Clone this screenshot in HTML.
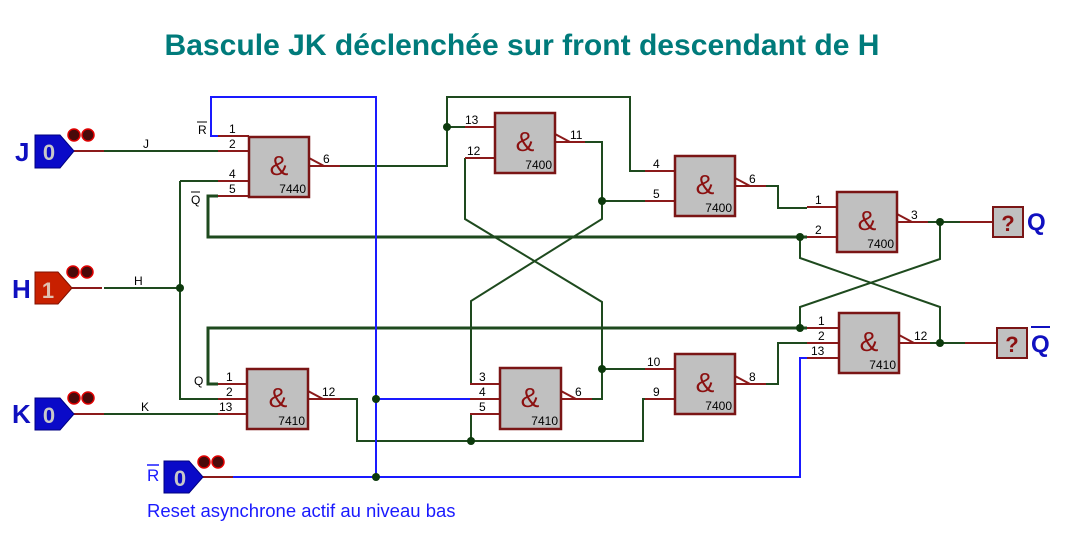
<!DOCTYPE html>
<html><head><meta charset="utf-8"><style>
html,body{margin:0;padding:0;background:#fff;}
svg{display:block;font-family:"Liberation Sans",sans-serif;}
.g{stroke:#1e4a1e;stroke-width:2;fill:none;}
.gt{stroke:#1e4a1e;stroke-width:3;fill:none;}
.b{stroke:#1a1aff;stroke-width:2;fill:none;}
.r{stroke:#8b1a1a;stroke-width:2;fill:none;}
.box{fill:#c0c0c0;stroke:#7a1515;stroke-width:2.5;}
.pn{font-size:12px;fill:#000;}
.amp{font-size:28px;fill:#8b1010;}
.ic{font-size:12px;fill:#000;}
</style></head><body>
<svg width="1069" height="547" viewBox="0 0 1069 547">
<text x="522" y="55" text-anchor="middle" font-size="30" font-weight="bold" fill="#007b7b" textLength="715" lengthAdjust="spacingAndGlyphs">Bascule JK déclenchée sur front descendant de H</text>

<g class="g">
<polyline points="104,151 218,151"/>
<polyline points="104,288 180,288"/>
<polyline points="104,414 218,414"/>
<polyline points="180,181 218,181"/>
<polyline points="180,181 180,399 218,399"/>
<polyline points="340,166 447,166 447,97 630,97 630,171 645,171"/>
<polyline points="447,127 465,127"/>
<polyline points="585,142 602,142 602,219 471,301 471,384"/>
<polyline points="602,201 645,201"/>
<polyline points="465,158 465,219 602,302 602,399 592,399"/>
<polyline points="602,369 645,369"/>
<polyline points="340,399 357,399 357,441 643,441 643,399 645,399"/>
<polyline points="471,414 471,441"/>
<polyline points="766,186 778,186 778,208 807,208"/>
<polyline points="766,384 778,384 778,343 807,343"/>
<polyline points="800,237 800,258 940,307 940,343"/>
<polyline points="940,222 940,259 800,307 800,328"/>
<polyline points="928,222 990,222"/>
<polyline points="930,343 995,343"/>
</g>
<g class="gt">
<polyline points="218,196 208,196 208,237 807,237"/>
<polyline points="807,328 208,328 208,384 218,384"/>
</g>
<g class="b">
<polyline points="218,136 211,136 211,97 376,97 376,477"/>
<polyline points="376,399 470,399"/>
<polyline points="203,477 800,477 800,358 807,358"/>
</g>
<g fill="#0d3a0d">
<circle cx="180" cy="288" r="4"/><circle cx="447" cy="127" r="4"/>
<circle cx="602" cy="201" r="4"/><circle cx="602" cy="369" r="4"/>
<circle cx="471" cy="441" r="4"/><circle cx="800" cy="237" r="4"/>
<circle cx="800" cy="328" r="4"/><circle cx="940" cy="222" r="4"/>
<circle cx="940" cy="343" r="4"/><circle cx="376" cy="399" r="4"/>
<circle cx="376" cy="477" r="4"/>
</g>
<g class="r">
<line x1="74" y1="151" x2="104" y2="151"/><line x1="72" y1="288" x2="102" y2="288"/>
<line x1="74" y1="414" x2="104" y2="414"/><line x1="203" y1="477" x2="233" y2="477"/>
<line x1="218" y1="136" x2="249" y2="136"/><line x1="218" y1="151" x2="249" y2="151"/>
<line x1="218" y1="181" x2="249" y2="181"/><line x1="218" y1="196" x2="249" y2="196"/>
<line x1="309" y1="166" x2="340" y2="166"/><polyline points="309,158 324,166"/>
<line x1="465" y1="127" x2="495" y2="127"/><line x1="465" y1="158" x2="495" y2="158"/>
<line x1="555" y1="142" x2="585" y2="142"/><polyline points="555,134 570,142"/>
<line x1="645" y1="171" x2="675" y2="171"/><line x1="645" y1="201" x2="675" y2="201"/>
<line x1="735" y1="186" x2="766" y2="186"/><polyline points="735,178 750,186"/>
<line x1="807" y1="207" x2="837" y2="207"/><line x1="807" y1="237" x2="837" y2="237"/>
<line x1="897" y1="222" x2="928" y2="222"/><polyline points="897,214 912,222"/>
<line x1="218" y1="384" x2="247" y2="384"/><line x1="218" y1="399" x2="247" y2="399"/><line x1="218" y1="414" x2="247" y2="414"/>
<line x1="308" y1="399" x2="340" y2="399"/><polyline points="308,391 323,399"/>
<line x1="470" y1="384" x2="500" y2="384"/><line x1="470" y1="399" x2="500" y2="399"/><line x1="470" y1="414" x2="500" y2="414"/>
<line x1="561" y1="399" x2="592" y2="399"/><polyline points="561,391 576,399"/>
<line x1="645" y1="369" x2="675" y2="369"/><line x1="645" y1="399" x2="675" y2="399"/>
<line x1="735" y1="384" x2="766" y2="384"/><polyline points="735,376 750,384"/>
<line x1="807" y1="328" x2="839" y2="328"/><line x1="807" y1="343" x2="839" y2="343"/><line x1="807" y1="358" x2="839" y2="358"/>
<line x1="899" y1="343" x2="930" y2="343"/><polyline points="899,335 914,343"/>
<line x1="960" y1="222" x2="993" y2="222"/><line x1="965" y1="343" x2="997" y2="343"/>
</g>
<g>
<rect class="box" x="249" y="137" width="60" height="60"/><text class="amp" x="279" y="175" text-anchor="middle">&amp;</text><text class="ic" x="306" y="193" text-anchor="end">7440</text>
<rect class="box" x="495" y="113" width="60" height="60"/><text class="amp" x="525" y="151" text-anchor="middle">&amp;</text><text class="ic" x="552" y="169" text-anchor="end">7400</text>
<rect class="box" x="675" y="156" width="60" height="60"/><text class="amp" x="705" y="194" text-anchor="middle">&amp;</text><text class="ic" x="732" y="212" text-anchor="end">7400</text>
<rect class="box" x="837" y="192" width="60" height="60"/><text class="amp" x="867" y="230" text-anchor="middle">&amp;</text><text class="ic" x="894" y="248" text-anchor="end">7400</text>
<rect class="box" x="247" y="369" width="61" height="60"/><text class="amp" x="278" y="407" text-anchor="middle">&amp;</text><text class="ic" x="305" y="425" text-anchor="end">7410</text>
<rect class="box" x="500" y="368" width="61" height="61"/><text class="amp" x="530" y="407" text-anchor="middle">&amp;</text><text class="ic" x="558" y="425" text-anchor="end">7410</text>
<rect class="box" x="675" y="354" width="60" height="60"/><text class="amp" x="705" y="392" text-anchor="middle">&amp;</text><text class="ic" x="732" y="410" text-anchor="end">7400</text>
<rect class="box" x="839" y="313" width="60" height="60"/><text class="amp" x="869" y="351" text-anchor="middle">&amp;</text><text class="ic" x="896" y="369" text-anchor="end">7410</text>
</g>
<g class="pn">
<text x="229" y="133">1</text><text x="229" y="148">2</text><text x="229" y="178">4</text><text x="229" y="193">5</text><text x="323" y="163">6</text>
<text x="465" y="124">13</text><text x="467" y="155">12</text><text x="570" y="139">11</text>
<text x="653" y="168">4</text><text x="653" y="198">5</text><text x="749" y="183">6</text>
<text x="815" y="204">1</text><text x="815" y="234">2</text><text x="911" y="219">3</text>
<text x="226" y="381">1</text><text x="226" y="396">2</text><text x="219" y="411">13</text><text x="322" y="396">12</text>
<text x="479" y="381">3</text><text x="479" y="396">4</text><text x="479" y="411">5</text><text x="575" y="396">6</text>
<text x="647" y="366">10</text><text x="653" y="396">9</text><text x="749" y="381">8</text>
<text x="818" y="325">1</text><text x="818" y="340">2</text><text x="811" y="355">13</text><text x="914" y="340">12</text>
<text x="143" y="148">J</text><text x="134" y="285">H</text><text x="141" y="411">K</text>
<text x="198" y="134">R</text><line x1="197" y1="122" x2="207" y2="122" stroke="#000" stroke-width="1"/>
<text x="191" y="204">Q</text><line x1="191" y1="192" x2="200" y2="192" stroke="#000" stroke-width="1"/>
<text x="194" y="385">Q</text>
</g>
<g>
<polygon points="35,135 60,135 74,151 60,168 35,168" fill="#0a0ac8" stroke="#000080"/>
<text x="49" y="160" text-anchor="middle" font-size="22" font-weight="bold" fill="#c8c8c8">0</text>
<text x="15" y="161" font-size="26" font-weight="bold" fill="#1010c0">J</text>
<polygon points="35,272 58,272 72,288 58,304 35,304" fill="#c82000" stroke="#801000"/>
<text x="48" y="298" text-anchor="middle" font-size="22" font-weight="bold" fill="#e0c0b0">1</text>
<text x="12" y="298" font-size="26" font-weight="bold" fill="#1010c0">H</text>
<polygon points="35,398 60,398 74,414 60,430 35,430" fill="#0a0ac8" stroke="#000080"/>
<text x="49" y="423" text-anchor="middle" font-size="22" font-weight="bold" fill="#c8c8c8">0</text>
<text x="12" y="423" font-size="26" font-weight="bold" fill="#1010c0">K</text>
<polygon points="164,461 189,461 203,477 189,493 164,493" fill="#0a0ac8" stroke="#000080"/>
<text x="180" y="486" text-anchor="middle" font-size="22" font-weight="bold" fill="#c8c8c8">0</text>
<text x="147" y="481" font-size="17" fill="#1a1aff">R</text><line x1="147" y1="465" x2="159" y2="465" stroke="#1a1aff" stroke-width="1.5"/>
<g fill="#4a0a0a" stroke="#e00000" stroke-width="1.5">
<circle cx="74" cy="135" r="6"/><circle cx="88" cy="135" r="6"/>
<circle cx="73" cy="272" r="6"/><circle cx="87" cy="272" r="6"/>
<circle cx="74" cy="398" r="6"/><circle cx="88" cy="398" r="6"/>
<circle cx="204" cy="462" r="6"/><circle cx="218" cy="462" r="6"/>
</g>
<text x="147" y="517" font-size="18.5" fill="#1a1aff">Reset asynchrone actif au niveau bas</text>
</g>
<rect x="993" y="207" width="30" height="30" fill="#c0c0c0" stroke="#7a1515" stroke-width="2"/>
<text x="1008" y="231" text-anchor="middle" font-size="22" font-weight="bold" fill="#8b1010">?</text>
<text x="1027" y="230" font-size="24" font-weight="bold" fill="#1010c0">Q</text>
<rect x="997" y="328" width="30" height="30" fill="#c0c0c0" stroke="#7a1515" stroke-width="2"/>
<text x="1012" y="352" text-anchor="middle" font-size="22" font-weight="bold" fill="#8b1010">?</text>
<text x="1031" y="352" font-size="24" font-weight="bold" fill="#1010c0">Q</text>
<line x1="1031" y1="327" x2="1050" y2="327" stroke="#1010c0" stroke-width="2"/>
</svg>
</body></html>
